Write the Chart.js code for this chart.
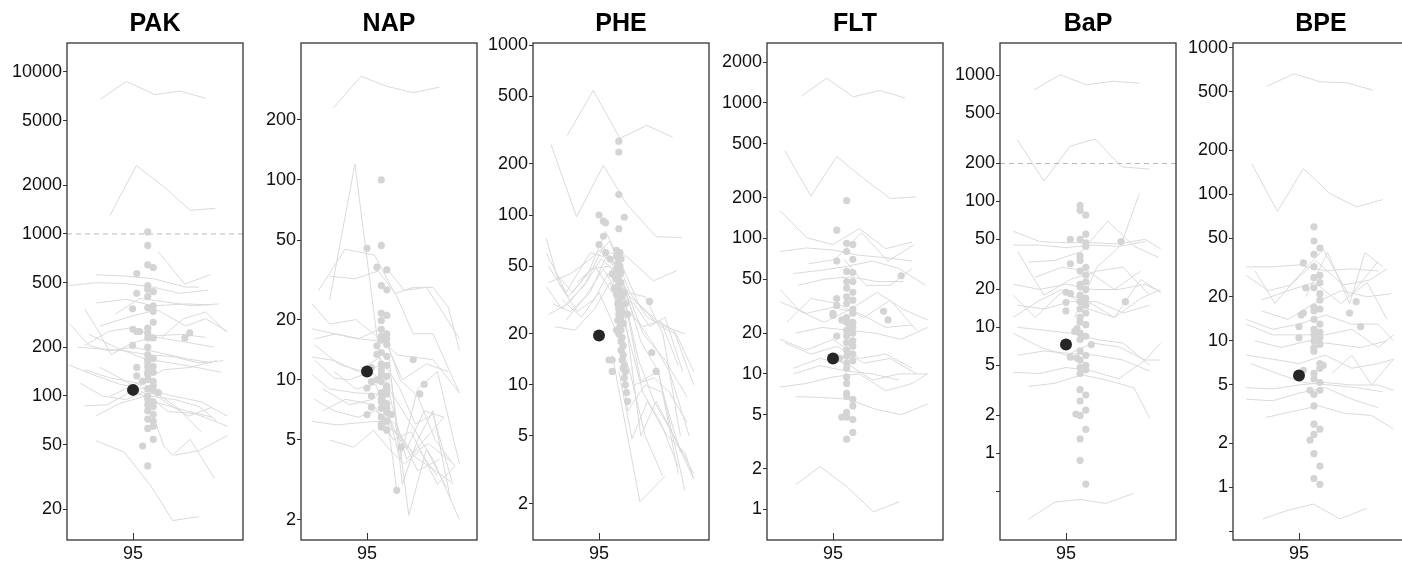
<!DOCTYPE html>
<html>
<head>
<meta charset="utf-8">
<script src="https://cdn.jsdelivr.net/npm/chart.js@4.4.1/dist/chart.umd.min.js"></script>
<style>
  body { margin: 0; background: #fff; width: 1402px; height: 563px; overflow: hidden; position: relative; }
  canvas { position: absolute; top: 0; }
</style>
</head>
<body>
<script>
// ---- data (x in years, y in concentration, log scale) ----
const meanX = 95;

// PAK
const pakLineX = [
  [93.5,94.7,96.0,97.15,98.3], [93.95,95.15,96.4,97.6,98.75], [96.15,97.35,98.5],
  [92.1,93.3,94.6,95.9,97.1,98.4], [93.3,94.6,95.9,97.4,98.0], [93.3,94.7,95.9,97.4,98.5],
  [93.5,94.9,96.1,97.4,98.3,99.3], [92.8,93.4,94.0,94.9,96.0,97.2,98.3], [92.1,93.0,93.9,95.0,96.2,97.4,98.6],
  [92.8,93.9,95.0,96.1,97.4,98.7], [92.1,93.2,94.4,95.6,96.8,98.1,99.3], [92.8,93.9,95.2,96.4,97.6,98.8],
  [92.8,93.8,95.0,96.2,97.4,98.6], [93.3,94.4,95.6,96.9,98.0,98.8], [93.5,94.6,95.7,96.6,97.8,99.3],
  [95.9,96.4,96.8,97.6,98.7], [93.3,94.6,95.8,96.8,98.0], [96.9,98.0,99.3],
  [93.0,94.2,95.5,96.7,97.9,99.0], [94.2,95.3,96.5,97.7,98.9], [92.5,93.5,94.6,95.6,96.8,98.0,99.1],
  [94.0,95.2,96.3,97.5,98.6], [96.3,97.3,98.3,99.2], [92.6,93.6,94.7,95.8,97.0,98.1]
];
const pakLineY = [
  [6770,8750,7240,7620,6880], [1300,2640,1960,1400,1440], [780,490,560],
  [480,500,495,470,430,450], [560,550,530,470,470], [375,395,360,370,365],
  [270,310,340,270,300,250], [345,255,180,210,235,240,230], [280,205,190,200,185,170,160],
  [205,250,265,230,215,200], [155,135,118,110,100,92,75], [145,130,120,145,150,165],
  [87,88,108,90,81,74], [75,90,100,95,86,70], [150,125,100,80,78,65],
  [77,49,43,54,31], [53,45,28,17,18], [43,46,57],
  [240,200,170,160,150,140], [320,400,380,360,370], [200,195,190,180,175,160,165],
  [100,120,95,75,85], [230,300,330,250], [120,100,95,110,85,60]
];
const pakDotX = [
  95.67,95.67,95.67,95.92,95.17,95.67,95.67,95.17,95.67,95.92,
  94.98,95.67,95.92,95.92,95.92,95.0,95.17,95.67,95.67,95.92,
  95.67,97.36,97.58,94.98,95.67,95.67,95.67,95.17,95.92,95.67,
  95.92,95.17,95.44,95.67,95.92,95.67,95.92,96.15,95.67,95.92,
  95.67,95.92,95.67,95.67,95.92,95.92,95.44,95.67,95.67,95.92,
  95.92,95.67,95.92,95.67,95.92,95.67,95.3,95.67
];
const pakDotY = [
  1030,850,645,620,570,480,455,430,410,440,
  345,350,360,333,285,258,250,262,245,228,
  228,228,245,205,180,167,151,150,152,136,
  140,133,123,126,123,111,108,105,95,86,
  81,77,72,63,65,54,49,37,160,170,
  115,100,92,88,70,140,250,200
];
const pakMean = 109;
const pakTicks = [20,50,100,200,500,1000,2000,5000,10000];

// NAP
const napLineX = [
  [93.47,94.73,95.89,97.1,98.29], [93.3,94.45,96.35], [92.8,94.0,95.35,96.26,97.1,98.0,98.7,99.2],
  [93.3,94.45,95.5,96.3,97.1,98.0,99.2], [95.9,96.7,97.7,98.3,99.2], [92.5,93.3,94.5,95.6,96.4,97.1,98.0,99.2],
  [92.6,93.6,94.7,95.9,96.5,97.3,98.1,99.0], [92.5,93.3,94.5,95.5,96.3,97.1,97.8,98.8], [92.6,93.5,94.2,95.2,96.0,97.0,98.0,99.2],
  [92.5,93.6,94.7,95.5,96.5,97.2,98.1,98.8], [93.3,94.4,95.3,96.0,96.7,97.4,98.2], [92.5,93.5,94.6,95.6,96.2,96.8,97.6,98.5],
  [92.6,93.7,94.8,95.8,96.5,97.2,98.0,98.9], [93.0,94.2,95.3,96.1,96.9,97.7,98.6], [93.5,94.5,95.4,96.0,96.8,97.6,98.5],
  [92.5,93.5,94.6,95.6,96.6,97.7,98.7], [93.0,94.0,95.3,96.2,97.0,98.2,99.0], [95.7,96.5,97.3,98.2,99.2],
  [96.0,96.6,97.3,98.0,98.8], [92.6,93.5,94.6,95.4,96.3,97.3,98.3]
];
const napLineY = [
  [229,330,294,273,291], [25,120,2.8], [28,45,42,27,29,29,23,14],
  [33,32,35,27,17,17,8.6], [36,28,29,23,16], [24,19,20,16,13.3,13,12.6,8.6],
  [16,17,16,15.5,10,8.3,5,3.7], [10.6,9,8.6,8.5,5.5,4.3,4.8,3.9], [12.6,10.2,10,11,9,6,4,2.0],
  [6.2,5.95,6.1,6.2,5.3,4.1,3.5,3.1], [5,4.6,5.6,4.5,3.8,4.4,3.3], [13,12.5,11,13,7,4,5,6.5],
  [15,12,11,12,9,6,6.7,3], [9,7.5,8,10,2.1,4.5,2.9], [11,9,9.5,6,4.5,7,6.5],
  [18,17,16,18,10,12,11], [7,8,7.5,5,5.5,3,3.7], [9,4,9,11,3.8],
  [13,3,5,7,2.5], [8,7,6.5,7,6,3.5,4]
];
const napDotX = [
  95.65,95.0,95.65,95.45,95.9,95.65,95.9,95.65,95.9,95.65,
  95.65,95.9,95.45,95.65,95.9,95.65,95.9,95.45,95.65,95.9,
  95.2,95.65,95.9,95.0,95.2,95.65,95.9,95.65,95.9,95.2,
  95.65,95.9,95.2,95.65,95.0,95.9,95.65,95.9,95.9,96.1,
  97.1,97.4,97.6,95.65,95.9,95.65,95.9,95.65,95.9,95.65,
  95.65,95.45,96.35,96.55
];
const napDotY = [
  100,45.5,47,36.6,35.5,29.6,28.2,21.5,21,19.8,
  17.9,17,14.8,15.8,15,13.7,13.1,13.4,12,11.8,
  11.5,10.6,10.4,9.1,9.8,9.8,9.3,8.6,8.5,8.3,
  7.8,7.6,7.3,7.2,6.7,6.9,6.5,6.2,5.6,6.7,
  12.6,8.5,9.5,16.5,16,11.2,9,8,7.2,6,
  5.8,10,2.8,4.6
];
const napMean = 11;
const napTicks = [2,5,10,20,50,100,200];

// PHE
const pheLineX = [
  [93.56,94.74,95.95,97.17,98.35], [92.82,93.98,95.2,96.26,97.59,98.76], [95.2,96.26,97.47,98.53],
  [92.6,93.2,94.0,94.8,95.4,96.2,97.0,97.8,98.5,99.3], [92.7,93.6,94.5,95.3,96.0,96.8,97.6,98.4,99.3],
  [92.6,93.3,94.3,95.1,95.9,96.6,97.4,98.2,99.1], [92.9,93.7,94.6,95.4,96.1,96.9,97.7,98.6],
  [92.7,93.6,94.4,95.2,96.0,96.8,97.5,98.4,99.3], [93.0,93.9,94.8,95.5,96.3,97.0,97.8,98.6],
  [93.3,94.2,95.0,95.7,96.4,97.1,97.9], [93.0,93.8,94.6,95.5,96.2,96.9,97.7,98.9],
  [92.6,93.5,94.6,95.6,96.3,97.0,98.0,99.0], [93.5,94.3,95.2,95.9,96.6,97.3,98.0,98.8],
  [95.6,96.3,97.1,97.9,98.7], [95.9,96.5,97.2,98.1,98.9,99.3], [95.6,96.86,98.0],
  [96.2,96.9,97.6,98.4,99.3], [94.0,94.8,95.6,96.2,97.0,97.8,98.6], [92.7,93.7,94.6,95.5,96.4,97.2,98.0,98.9],
  [96.6,97.5,98.2,99.0], [96.3,97.1,97.9,98.7]
];
const pheLineY = [
  [294,542,283,337,287], [260,97.6,196,116,74.5,73.8], [61,57,41,47],
  [73,39,27,32,45,35,28,22,20,12], [50,33,45,80,52,30,24,21,10],
  [38,28,38,55,45,25,18,12,5], [30,27,35,60,40,18,12,3],
  [26,30,40,65,40,14,8,5,2.8], [22,21,28,40,20,9,6,3.3],
  [32,25,35,22,12,5,2.9], [46,35,48,50,30,10.5,12,2.4],
  [60,35,60,55,35,20,14,8.5], [24,32,48,34,30,22,25,12],
  [45,7,10,9,4], [12,4.8,8,5,4,2.8], [15,2.05,2.9],
  [25,5,8,5,3], [40,50,35,28,22,24,13], [40,45,55,70,35,25,22,20],
  [10,11,9,6], [35,33,20,5]
];
const pheDotX = [
  95.9,95.9,95.9,96.15,95.9,95.0,95.2,95.3,95.2,95.0,
  95.8,95.95,95.8,96.0,95.85,95.95,95.8,96.0,95.9,95.8,
  96.0,95.85,95.95,95.8,96.05,95.9,95.85,96.0,95.9,96.05,
  95.9,96.0,95.85,96.1,95.95,96.0,95.9,96.05,96.0,96.1,
  96.0,96.1,96.05,96.15,96.1,96.2,96.15,96.2,96.25,96.3,
  95.6,95.45,95.6,97.3,97.4,97.6,95.3,95.5,95.6,96.3,
  96.15,95.7,95.8,96.2
];
const pheDotY = [
  272,235,132,97,83,100,92,90,75,67,
  62,60,57,55,52,50,48,46,44,42,
  40,38,36,34,33,31,30,29,28,27,
  26,25,24,23,22,21,20,19,18,17,
  16,15,14,13,12.5,12,11,10,9,8,
  14,14,12,31,15.5,12,60,55,45,26,
  35,37,21,30
];
const pheMean = 19.5;
const pheTicks = [2,5,10,20,50,100,200,500,1000];

// FLT
const fltLineX = [
  [93.55,94.71,95.92,97.14,98.27], [92.82,94.0,95.17,96.38,97.6,98.77], [93.32,94.41,95.62,96.83,98.02],
  [92.6,93.8,95.0,96.2,97.4,98.6], [92.6,93.8,95.0,96.2,97.4,98.6], [93.2,94.4,95.6,96.8,98.0,99.2],
  [93.4,94.6,95.8,97.0,98.2], [92.6,93.5,94.6,95.8,97.0,98.2,99.3], [92.6,93.8,95.0,96.2,97.4,98.6],
  [92.9,94.0,95.2,96.4,97.6,98.8], [93.3,94.5,95.7,96.9,98.1,99.3], [92.6,93.8,95.0,96.2,97.4,98.6],
  [93.2,94.4,95.6,96.8,98.0,99.3], [92.6,93.8,95.0,96.2,97.4,98.6,99.3], [93.3,94.5,95.7,96.9,98.1,99.3],
  [93.2,94.4,95.6,96.8,98.0], [93.9,95.1,96.3,97.5,98.7], [95.5,96.5,97.6,98.6],
  [92.8,94.0,95.2,96.4,97.6,98.8]
];
const fltLineY = [
  [1116,1517,1108,1232,1086], [440,205,401,278,197,202], [1.53,2.07,1.48,0.96,1.14],
  [160,101,90,118,84,94], [80,85,82,75,72,68], [55,58,62,68,60,45],
  [45,50,52,48,48], [42,29,24,30,40,30,25], [34,28,31,28,22,23],
  [24,36,33,26,35,21], [20,22,21,20,18,22], [18,15,18,13,14,11],
  [11,13,12,9,10,10], [8,8.5,9.5,10,7.5,8.5,10], [6.8,6.7,6.5,5.5,5,6],
  [10,11.5,10.5,10,9], [65,70,110,68,90], [70,45,45,60],
  [17,14,16,12,13,10]
];
const fltDotX = [
  95.62,95.17,95.62,95.9,95.62,95.17,95.9,95.62,95.9,95.62,
  95.9,95.62,95.9,95.62,95.17,95.62,95.9,95.17,95.9,95.0,
  95.0,95.62,95.4,95.62,95.9,95.62,95.9,95.17,95.62,95.62,
  95.9,95.62,95.9,95.75,95.62,95.3,95.9,95.62,95.62,95.62,
  95.62,95.62,95.62,95.9,95.9,95.62,95.4,95.62,95.9,95.9,
  95.62,97.3,97.5,98.1,95.75,95.9,95.9,95.9
];
const fltDotY = [
  190,115,92,90,80,68,70,57,56,48,
  48,43,40,37,36,33,30,32,28,27,
  28,26,25,24,22,21,20,19,19,17,
  16,15,14,14,13.5,13,12.5,12,11,9.5,
  8.5,7.2,6.8,6.5,5.8,5.2,4.8,4.8,4.6,3.7,
  3.3,29,25,53,22,24,35,17.5
];
const fltMean = 13;
const fltTicks = [1,2,5,10,20,50,100,200,500,1000,2000];

// BaP
const bapLineX = [
  [93.55,94.73,95.94,97.12,98.33], [92.79,94.0,95.18,96.32,97.53,98.79], [93.29,94.5,95.64,96.8,98.06],
  [95.4,96.4,97.5,98.33], [92.6,93.8,95.0,96.2,97.4,98.6,99.3], [92.6,93.8,95.0,96.2,97.4,98.6],
  [93.3,94.5,95.7,96.9,98.1,99.2], [92.8,94.0,95.2,96.4,97.6,98.8], [92.6,93.8,95.0,96.2,97.4,98.6,99.3],
  [92.8,94.0,95.2,96.4,97.6,98.8], [92.6,93.7,94.8,96.0,97.2,98.4,99.3], [92.8,94.0,95.2,96.4,97.6,98.8],
  [92.6,93.8,95.0,96.2,97.4,98.6,99.3], [92.8,94.0,95.2,96.4,97.6,98.8], [92.6,93.8,95.0,96.2,97.4,98.6,99.3],
  [93.3,94.5,95.7,96.9,98.1,98.8], [93.6,94.8,96.0,97.2,98.4], [92.6,93.6,94.8,96.0,97.2,98.4,99.3]
];
const bapLineY = [
  [768,1013,843,900,870], [308,145,274,313,188,181], [0.30,0.41,0.43,0.40,0.48],
  [12,30,45,115], [58,48,47,47,46,50,42], [45,45,43,45,44,48],
  [33,34,40,70,44,36], [40,18,24,28,30,18], [22,20,22,20,20,22,19],
  [15,14,16,16,13,15], [12,16,20,14,12,17,20], [10,9.5,9,8,7.5,5],
  [9,7,6,7.5,7,5.5,7.5], [6,6.5,6.2,6,5.5,4.5], [4.4,4.3,4.8,4.5,3.9,5.5,5.5],
  [3.4,3.6,4.2,3.8,3.3,1.9], [25,30,28,20,28], [18,12,19,16,12,24,19]
];
const bapDotX = [
  95.64,95.64,95.9,95.9,95.9,95.64,95.2,95.9,95.64,95.64,
  95.2,95.9,95.64,95.9,95.9,95.64,95.64,95.9,95.0,95.2,
  95.64,95.9,95.64,95.0,95.9,95.64,95.0,95.9,95.64,95.64,
  95.9,95.5,95.4,95.64,95.9,95.64,96.15,95.64,95.9,95.2,
  95.64,95.9,95.64,95.9,95.64,95.64,95.9,95.64,95.45,95.64,
  95.9,95.9,95.64,95.64,95.9,97.5,97.7,95.5
];
const bapDotY = [
  93,85,78,55,47,50,50,44,37,34,
  32,30,28,26,23,22,21,20,19,18.5,
  18,17,16,15.8,15,14,13.5,13,12,11,
  10.5,9.8,9.3,9,8.5,8,7.3,6.5,6,5.8,
  5.5,5,4.8,4.6,4.3,3.2,2.9,2.6,2.05,2.0,
  2.2,1.55,1.3,0.88,0.57,48,16,5.7
];
const bapMean = 7.3;
const bapTicks = [0.5,1,2,5,10,20,50,100,200,500,1000];

// BPE
const bpeLineX = [
  [93.53,94.77,95.95,97.17,98.35], [92.85,94.02,95.2,96.41,97.62,98.8], [93.35,94.52,95.65,96.86,98.08],
  [92.6,93.8,95.0,96.2,97.4,98.6], [92.6,93.6,94.6,95.8,97.0,98.2,99.0], [93.0,93.9,95.0,96.1,97.3,98.6],
  [93.3,94.5,95.7,96.9,98.1,99.0], [92.6,93.8,95.0,96.2,97.4,98.6,99.3], [92.6,93.8,95.0,96.2,97.4,98.6,99.3],
  [93.0,94.2,95.4,96.6,97.8,99.0], [92.6,93.8,95.0,96.2,97.4,98.6,99.3], [92.8,94.0,95.2,96.4,97.6,98.8],
  [92.6,93.8,95.0,96.2,97.4,98.6,99.3], [92.6,93.8,95.0,96.2,97.4,98.6], [93.5,94.7,95.9,97.1,98.3,99.3],
  [95.3,96.3,97.3,98.0,98.8], [93.3,94.5,95.7,96.9,98.1,99.2], [96.5,97.4,98.3,99.3]
];
const bpeLineY = [
  [544,664,586,576,514], [162,76.5,150,101,82,92], [0.61,0.70,0.77,0.61,0.72],
  [32,32,33,30,31,30], [28,22,24,35,24,26,31], [30,18,28,42,20,35],
  [19,22,25,18,25,14], [14,12,13,15,13,13,10], [13,11,11,11,12,9,11],
  [10,9,10,9.5,9,10], [8,7.5,7,8,6.5,7,7.5], [7,6,5.2,5,4.8,4.5],
  [4.8,4.7,5,5.2,5,5,4.6], [4,3.9,4.4,4.8,4,3.5], [3,3.3,3.6,3.2,3.1,2.5],
  [20,40,18,40,32], [16,14,18,22,20,21], [6,8,5,7.5]
];
const bpeDotX = [
  95.68,95.68,95.95,95.68,95.2,95.68,95.68,95.95,95.95,95.3,
  95.68,95.95,95.95,95.68,95.95,95.68,95.1,95.2,95.68,95.95,
  95.0,95.68,95.95,95.68,95.95,95.0,95.68,95.95,95.68,95.68,
  95.95,96.1,95.95,95.2,95.68,95.68,95.95,95.95,95.5,95.68,
  95.68,95.68,95.95,95.68,95.5,95.68,95.95,95.68,95.95,97.3,
  97.6,97.8
];
const bpeDotY = [
  60,48,43,39,34,32,27,28,25,23,
  23,21,19,17,16.5,16,15,15.5,14,13,
  12.5,12,11.5,11,10.5,10.5,10,9.5,9,8.5,
  7,6.8,6.5,6.3,6,5.5,5.2,4.6,4.6,4.3,
  3.6,2.7,2.5,2.3,2.1,1.7,1.4,1.15,1.05,15.5,
  18.5,12.5
];
const bpeMean = 5.8;
const bpeTicks = [0.5,1,2,5,10,20,50,100,200,500,1000];

// ---- panels ----
const panels = [
  { name: 'PAK', left: 67,   min: 12.9,  max: 15100, lineX: pakLineX, lineY: pakLineY, dotX: pakDotX, dotY: pakDotY, mean: pakMean, ticks: pakTicks, ref: 1000 },
  { name: 'NAP', left: 301,  min: 1.58,  max: 484,   lineX: napLineX, lineY: napLineY, dotX: napDotX, dotY: napDotY, mean: napMean, ticks: napTicks },
  { name: 'PHE', left: 533,  min: 1.22,  max: 1030,  lineX: pheLineX, lineY: pheLineY, dotX: pheDotX, dotY: pheDotY, mean: pheMean, ticks: pheTicks },
  { name: 'FLT', left: 767,  min: 0.595, max: 2763,  lineX: fltLineX, lineY: fltLineY, dotX: fltDotX, dotY: fltDotY, mean: fltMean, ticks: fltTicks },
  { name: 'BaP', left: 1000, min: 0.205, max: 1811,  lineX: bapLineX, lineY: bapLineY, dotX: bapDotX, dotY: bapDotY, mean: bapMean, ticks: bapTicks, ref: 200 },
  { name: 'BPE', left: 1233, min: 0.438, max: 1077,  lineX: bpeLineX, lineY: bpeLineY, dotX: bpeDotX, dotY: bpeDotY, mean: bpeMean, ticks: bpeTicks }
];

const FONT = '"Liberation Sans", Arial, Helvetica, sans-serif';
const AXIS_W = 62, PLOT_W = 176;

// box, inward x tick and panel title
const boxPlugin = {
  id: 'box',
  afterDraw(chart, args, opts) {
    const { ctx, chartArea: a } = chart;
    ctx.save();
    ctx.strokeStyle = '#333';
    ctx.lineWidth = 1.3;
    ctx.strokeRect(a.left, a.top, a.right - a.left, a.bottom - a.top);
    const tx = Math.round(chart.scales.x.getPixelForValue(meanX)) + 0.5;
    ctx.lineWidth = 1;
    ctx.beginPath();
    ctx.moveTo(tx, a.bottom);
    ctx.lineTo(tx, a.bottom - 7);
    ctx.stroke();
    ctx.fillStyle = '#000';
    ctx.font = 'bold 25px ' + FONT;
    ctx.textAlign = 'center';
    ctx.textBaseline = 'middle';
    ctx.fillText(opts.title, (a.left + a.right) / 2, 24);
    ctx.restore();
  }
};

panels.forEach(p => {
  const c = document.createElement('canvas');
  // chart.js keeps a few px free on the right, so the canvas is a bit wider than the plot
  c.width = AXIS_W + PLOT_W + 6;
  c.height = 563;
  c.style.left = (p.left - AXIS_W) + 'px';
  document.body.appendChild(c);

  const datasets = [];
  // mean point on top
  datasets.push({ data: [{ x: meanX, y: p.mean }], pointRadius: 6, backgroundColor: '#262626', borderWidth: 0 });
  datasets.push({
    data: p.dotX.map((x, i) => ({ x: x, y: p.dotY[i] })),
    pointRadius: 3.6, backgroundColor: '#d4d4d4', borderWidth: 0
  });
  if (p.ref) {
    datasets.push({
      data: [{ x: 92, y: p.ref }, { x: 100, y: p.ref }],
      showLine: true, pointRadius: 0, borderColor: '#b8b8b8', borderWidth: 1, borderDash: [5, 4]
    });
  }
  p.lineX.forEach((xs, k) => {
    datasets.push({
      data: xs.map((x, i) => ({ x: x, y: p.lineY[k][i] })),
      showLine: true, pointRadius: 0, borderColor: '#dadada', borderWidth: 1, tension: 0
    });
  });

  new Chart(c, {
    type: 'scatter',
    data: { datasets },
    options: {
      responsive: false,
      animation: false,
      events: [],
      layout: { padding: { top: 43, right: 0, left: 0, bottom: 0 } },
      plugins: {
        legend: { display: false },
        tooltip: { enabled: false },
        box: { title: p.name }
      },
      scales: {
        x: {
          type: 'linear', min: 92, max: 100, bounds: 'data',
          afterBuildTicks: s => { s.ticks = [{ value: meanX }]; },
          afterFit: s => { s.height = 23; },
          grid: { display: false, drawTicks: false },
          border: { display: false },
          ticks: {
            font: { family: FONT, size: 18 }, color: '#111', padding: 3,
            maxRotation: 0, autoSkip: false, callback: v => String(v)
          }
        },
        y: {
          type: 'logarithmic', min: p.min, max: p.max, bounds: 'data',
          afterBuildTicks: s => { s.ticks = p.ticks.map(v => ({ value: v })); },
          afterFit: s => { s.width = AXIS_W; },
          grid: { display: true, drawOnChartArea: false, drawTicks: true, tickLength: 4, color: '#333', lineWidth: 1 },
          border: { display: false },
          ticks: {
            font: { family: FONT, size: 18 }, color: '#111', padding: 1,
            autoSkip: false, callback: v => (v === 0.5) ? '' : String(v)
          }
        }
      }
    },
    plugins: [boxPlugin]
  });
});
</script>
</body>
</html>
